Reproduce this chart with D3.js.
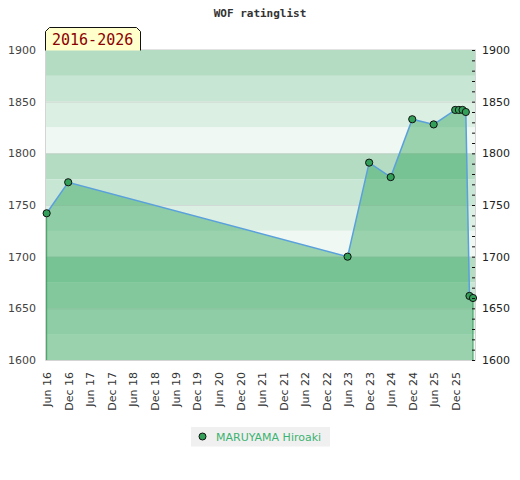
<!DOCTYPE html>
<html>
<head>
<meta charset="utf-8">
<script src="https://cdnjs.cloudflare.com/ajax/libs/d3/7.8.5/d3.min.js"></script>
<style>
body { margin: 0; background: #fff; }
</style>
</head>
<body>
<script>
var width = 520;
var height = 480;

// data
var title = "WOF ratinglist";
var period = "2016-2026";
var player = "MARUYAMA Hiroaki";
var dates = ["2016-06-15", "2016-12-15", "2023-06-15", "2023-12-15", "2024-06-15", "2024-12-15",
             "2025-06-15", "2025-12-15", "2026-01-15", "2026-02-15", "2026-03-15", "2026-04-15", "2026-05-15"];
var ratings = [1742, 1772, 1700, 1791, 1777, 1833, 1828, 1842, 1842, 1842, 1840, 1662, 1660];
var tickLabels = ["Jun 16", "Dec 16", "Jun 17", "Dec 17", "Jun 18", "Dec 18", "Jun 19", "Dec 19", "Jun 20", "Dec 20",
                  "Jun 21", "Dec 21", "Jun 22", "Dec 22", "Jun 23", "Dec 23", "Jun 24", "Dec 24", "Jun 25", "Dec 25"];
var tickDates = ["2016-06-15", "2016-12-15", "2017-06-15", "2017-12-15", "2018-06-15", "2018-12-15",
                 "2019-06-15", "2019-12-15", "2020-06-15", "2020-12-15", "2021-06-15", "2021-12-15",
                 "2022-06-15", "2022-12-15", "2023-06-15", "2023-12-15", "2024-06-15", "2024-12-15",
                 "2025-06-15", "2025-12-15"];
var yTicks = [1600, 1650, 1700, 1750, 1800, 1850, 1900];
var bandEdges = [1900, 1875, 1850, 1825, 1800, 1775, 1750, 1725, 1700, 1675, 1650, 1625, 1600];
var bandShades = ["#b3dcc2", "#c8e6d4", "#dcefe3", "#f0f8f3"];

var parse = d3.timeParse("%Y-%m-%d");
var points = dates.map(function(d, i){ return {date: parse(d), rating: ratings[i]}; });

var svg = d3.select("body")
    .append("svg")
    .attr("width", width)
    .attr("height", height);

var x = d3.scaleTime()
    .domain([parse("2016-06-01"), parse("2026-06-01")])
    .range([45, 475]);
var y = d3.scaleLinear()
    .domain([1600, 1900])
    .range([360, 50]);

// background bands
svg.append("g").selectAll("rect")
  .data(bandEdges.slice(0, -1))
  .enter()
  .append("rect")
  .attr("x", x.range()[0])
  .attr("width", x.range()[1] - x.range()[0])
  .attr("y", function(d){ return y(d); })
  .attr("height", function(d){ return y(d - 25) - y(d); })
  .attr("fill", function(d, i){ return bandShades[i % 4]; });

// faint grid
svg.append("g").selectAll("line")
  .data(yTicks.slice(1, -1))
  .enter()
  .append("line")
  .attr("x1", 45).attr("x2", 475)
  .attr("y1", function(d){ return y(d) + 0.5; })
  .attr("y2", function(d){ return y(d) + 0.5; })
  .attr("stroke", "#c8c8c8")
  .attr("stroke-opacity", 0.55);

var area = d3.area()
    .x(function(d){ return x(d.date); })
    .y0(y(1600))
    .y1(function(d){ return y(d.rating); });

svg.append("path")
  .datum(points)
  .attr("d", area)
  .attr("fill", "rgb(51,166,92)")
  .attr("fill-opacity", 0.46);

// area side edges
var first = points[0], last = points[points.length - 1];
svg.append("g").selectAll("line")
  .data([first, last])
  .enter()
  .append("line")
  .attr("x1", function(d){ return x(d.date); })
  .attr("x2", function(d){ return x(d.date); })
  .attr("y1", function(d){ return y(d.rating); })
  .attr("y2", y(1600))
  .attr("stroke", "#3a9d5d")
  .attr("stroke-width", 1);

// plot border
svg.append("path")
  .attr("d", "M45.5,50V360.5H475.5V50")
  .attr("fill", "none")
  .attr("stroke", "#d4d4d4");
svg.append("line")
  .attr("x1", 45).attr("x2", 476)
  .attr("y1", 49.5).attr("y2", 49.5)
  .attr("stroke", "#e2e2e2");

var line = d3.line()
    .x(function(d){ return x(d.date); })
    .y(function(d){ return y(d.rating); });

svg.append("path")
  .datum(points)
  .attr("d", line)
  .attr("fill", "none")
  .attr("stroke", "#5aa0dc")
  .attr("stroke-width", 1.5);

svg.append("g").selectAll("circle")
  .data(points)
  .enter()
  .append("circle")
  .attr("cx", function(d){ return x(d.date); })
  .attr("cy", function(d){ return y(d.rating); })
  .attr("r", 3.6)
  .attr("fill", "#33a05a")
  .attr("stroke", "#111")
  .attr("stroke-width", 1);

// axes
var fmt = d3.format("d");

var leftAxis = svg.append("g")
    .attr("transform", "translate(45,0)")
    .call(d3.axisLeft(y).tickValues(yTicks).tickSize(0).tickPadding(9).tickFormat(fmt));
leftAxis.select(".domain").remove();
leftAxis.selectAll("text")
    .attr("fill", "#444")
    .style("font", "11px 'DejaVu Sans'");

var rightMinor = svg.append("g")
    .attr("transform", "translate(475,0)")
    .call(d3.axisLeft(y).tickValues(d3.range(1600, 1901, 10)).tickSize(3).tickFormat(""));
rightMinor.select(".domain").remove();
rightMinor.selectAll("line").attr("stroke", "#111");

var rightAxis = svg.append("g")
    .attr("transform", "translate(475,0)")
    .call(d3.axisRight(y).tickValues(yTicks).tickSize(0).tickPadding(7).tickFormat(fmt));
rightAxis.select(".domain").remove();
rightAxis.selectAll("text")
    .attr("fill", "#222")
    .style("font", "11px 'DejaVu Sans'");

var bottomAxis = svg.append("g")
    .attr("transform", "translate(0,360)")
    .call(d3.axisBottom(x)
      .tickValues(tickDates.map(parse))
      .tickSize(0)
      .tickFormat(function(d, i){ return tickLabels[i]; }));
bottomAxis.select(".domain").remove();
bottomAxis.selectAll("text")
    .attr("transform", "rotate(-90)")
    .attr("x", -12)
    .attr("y", 0)
    .attr("dy", "0.35em")
    .attr("text-anchor", "end")
    .attr("fill", "#333")
    .style("font", "11px 'DejaVu Sans'");

// title
svg.append("text")
  .attr("x", 260)
  .attr("y", 17)
  .attr("text-anchor", "middle")
  .attr("fill", "#333")
  .style("font", "bold 11px 'DejaVu Sans Mono'")
  .text(title);

// period tag
svg.append("path")
  .attr("d", "M45.5,50.5V31.5L49.5,27.5H136.5L140.5,31.5V50.5")
  .attr("fill", "#ffffcc")
  .attr("stroke", "#111");
svg.append("text")
  .attr("x", 52)
  .attr("y", 45)
  .attr("fill", "#8b0000")
  .style("font", "15px 'DejaVu Sans Mono'")
  .text(period);

// legend
var legend = svg.append("g");
legend.append("rect")
  .attr("x", 191).attr("y", 427)
  .attr("width", 139).attr("height", 19.5)
  .attr("fill", "#f0f0f0");
legend.append("circle")
  .attr("cx", 202.5).attr("cy", 436.5)
  .attr("r", 3.5)
  .attr("fill", "#33a05a")
  .attr("stroke", "#111");
legend.append("text")
  .attr("x", 216).attr("y", 440.5)
  .attr("fill", "#3cb371")
  .style("font", "11px 'DejaVu Sans'")
  .text(player);
</script>
</body>
</html>
